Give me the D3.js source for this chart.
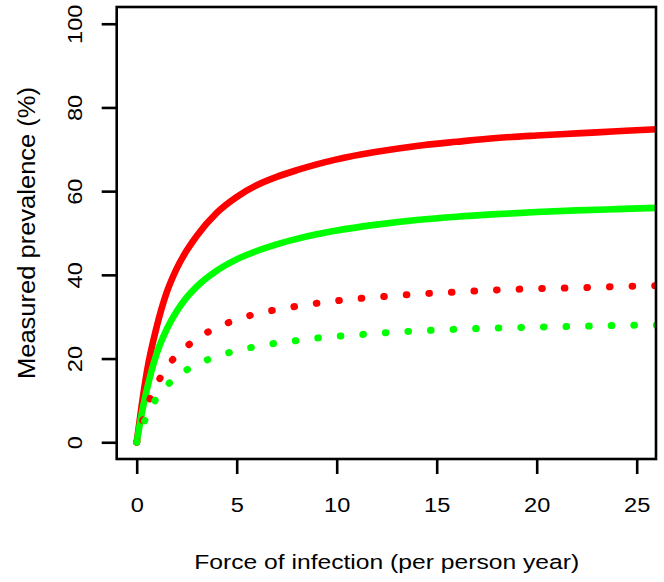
<!DOCTYPE html>
<html>
<head>
<meta charset="utf-8">
<script src="https://cdnjs.cloudflare.com/ajax/libs/d3/7.8.5/d3.min.js"></script>
<style>
  html, body { margin: 0; padding: 0; background: #fff; }
  svg { display: block; }
  text { font-family: "Liberation Sans", Arial, Helvetica, sans-serif; fill: #000; }
</style>
</head>
<body>
<div id="chart"></div>
<script>
// ---- data ----
const forceX = [0, 0.25, 0.5, 1, 1.5, 2, 2.5, 3, 4, 5, 6, 7, 8, 9, 10, 12, 14, 16, 18, 20, 22, 24, 26, 27];
const redSolid   = [0, 8.8, 16.6, 27.6, 35.8, 41.5, 45.8, 49.3, 54.8, 58.6, 61.4, 63.4, 65.0, 66.4, 67.6, 69.4, 70.8, 71.8, 72.7, 73.3, 73.8, 74.3, 74.8, 75.0];
const greenSolid = [0, 6.8, 12.4, 21.2, 27.0, 31.3, 34.6, 37.2, 41.0, 43.7, 45.7, 47.3, 48.6, 49.7, 50.6, 52.0, 53.1, 53.9, 54.5, 55.0, 55.4, 55.7, 56.0, 56.1];
const redDotted   = [0, 4.4, 8.3, 13.8, 17.9, 20.8, 22.9, 24.7, 27.4, 29.3, 30.7, 31.7, 32.5, 33.2, 33.8, 34.7, 35.4, 35.9, 36.4, 36.7, 36.9, 37.2, 37.4, 37.5];
const greenDotted = [0, 3.4, 6.2, 10.6, 13.5, 15.7, 17.3, 18.6, 20.5, 21.9, 22.9, 23.7, 24.3, 24.9, 25.3, 26.0, 26.6, 27.0, 27.3, 27.5, 27.7, 27.9, 28.0, 28.1];
const xTicks = [0, 5, 10, 15, 20, 25];
const yTicks = [0, 20, 40, 60, 80, 100];
const xLabel = "Force of infection (per person year)";
const yLabel = "Measured prevalence (%)";

// ---- layout ----
const W = 664, H = 582;
const L = 116.7, R = 656.7, T = 7, B = 459;

const x = d3.scaleLinear().domain([-1, 26]).range([L, R]);
const y = d3.scaleLinear().domain([-4, 104]).range([B, T]);

const svg = d3.select("#chart").append("svg").attr("width", W).attr("height", H);

svg.append("defs").append("clipPath").attr("id", "plotclip")
  .append("rect").attr("x", L).attr("y", T).attr("width", R - L).attr("height", B - T);

const line = d3.line().x(d => x(d[0])).y(d => y(d[1])).curve(d3.curveMonotoneX);
const g = svg.append("g").attr("clip-path", "url(#plotclip)");

const series = [
  { v: redSolid,   color: "#ff0000", dotted: false },
  { v: greenSolid, color: "#00ff00", dotted: false },
  { v: redDotted,  color: "#ff0000", dotted: true },
  { v: greenDotted,color: "#00ff00", dotted: true }
];
series.forEach(s => {
  g.append("path")
    .attr("d", line(forceX.map((xx, i) => [xx, s.v[i]])))
    .attr("fill", "none")
    .attr("stroke", s.color)
    .attr("stroke-width", s.dotted ? 7 : 6.6)
    .attr("stroke-linecap", "round")
    .attr("stroke-linejoin", "round")
    .attr("stroke-dasharray", s.dotted ? "0.6,22" : null);
});

// ---- axes ----
const axisW = 2.6;
const xAxis = d3.axisBottom(x).tickValues(xTicks).tickSize(15).tickFormat(d3.format("d")).tickPadding(0);
const yAxis = d3.axisLeft(y).tickValues(yTicks).tickSize(15).tickFormat(d3.format("d")).tickPadding(0);

const gx = svg.append("g").attr("transform", `translate(0,${B})`).call(xAxis);
const gy = svg.append("g").attr("transform", `translate(${L},0)`).call(yAxis);
[gx, gy].forEach(a => {
  a.select(".domain").remove();
  a.selectAll(".tick line").attr("stroke", "#000").attr("stroke-width", axisW);
});
const tickFont = 20.5, stretch = 1.15;
gx.selectAll(".tick text")
  .attr("y", 52.5).attr("dy", null)
  .style("font-family", "'Liberation Sans', Arial, sans-serif")
  .style("font-size", tickFont + "px")
  .attr("text-anchor", "middle");
gy.selectAll(".tick text")
  .attr("x", null).attr("dy", null)
  .attr("transform", "translate(-34.7,0) rotate(-90)")
  .attr("y", 0)
  .style("font-family", "'Liberation Sans', Arial, sans-serif")
  .style("font-size", tickFont + "px")
  .attr("text-anchor", "middle");
svg.selectAll(".tick text").each(function() {
  const n = this.getComputedTextLength();
  d3.select(this).attr("textLength", n * stretch).attr("lengthAdjust", "spacingAndGlyphs");
});

// box
svg.append("rect").attr("x", L).attr("y", T).attr("width", R - L - 0.7).attr("height", B - T)
  .attr("fill", "none").attr("stroke", "#000").attr("stroke-width", axisW);

// titles
svg.append("text").attr("x", (L + R) / 2).attr("y", 569.3)
  .attr("text-anchor", "middle").style("font-size", "20.5px")
  .attr("textLength", 385).attr("lengthAdjust", "spacingAndGlyphs")
  .text(xLabel);
svg.append("text").attr("transform", `translate(34.5,${(T + B) / 2}) rotate(-90)`)
  .attr("text-anchor", "middle").style("font-size", "23.5px")
  .attr("textLength", 292).attr("lengthAdjust", "spacingAndGlyphs")
  .text(yLabel);
</script>
</body>
</html>
